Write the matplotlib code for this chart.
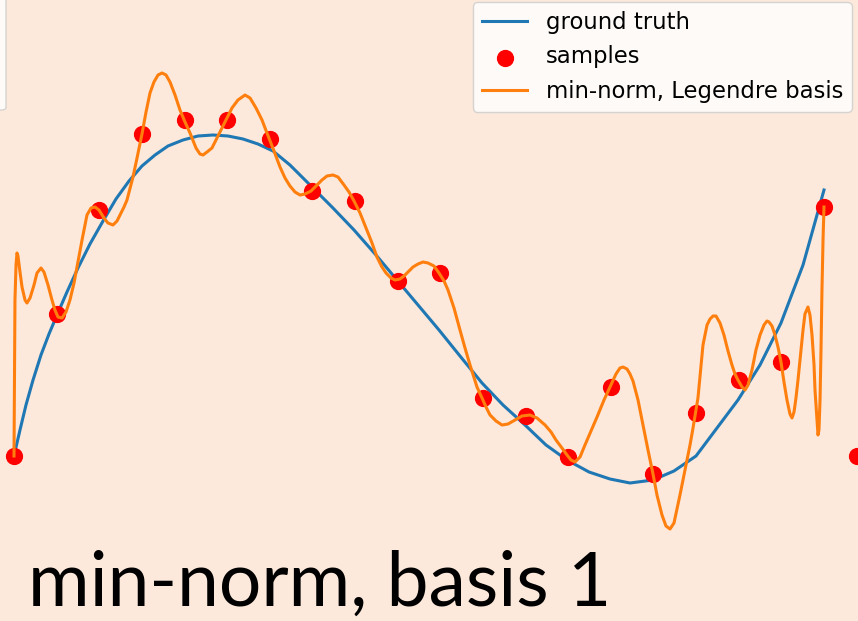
import matplotlib.pyplot as plt
from matplotlib.patches import FancyBboxPatch

BG = '#fce9db'

# ground truth curve
truth_x = [0.0, 0.0074, 0.0148, 0.0235, 0.0333, 0.0432, 0.0531, 0.0654, 0.0790, 0.0938,
           0.1099, 0.1259, 0.1420, 0.1580, 0.1741, 0.1901, 0.2086, 0.2272, 0.2457, 0.2642,
           0.2827, 0.3012, 0.3198, 0.3407, 0.3667, 0.3938, 0.4198, 0.4469, 0.4728, 0.4988,
           0.5247, 0.5506, 0.5778, 0.6037, 0.6309, 0.6568, 0.6827, 0.7099, 0.7358, 0.7605,
           0.7889, 0.8148, 0.8420, 0.8679, 0.8938, 0.9210, 0.9469, 0.9741, 1.0]
truth_y = [-1.56, -1.30, -1.05, -0.80, -0.55, -0.34, -0.15, 0.08, 0.32, 0.56,
           0.79, 1.01, 1.19, 1.34, 1.45, 1.54, 1.60, 1.64, 1.65, 1.64,
           1.61, 1.56, 1.49, 1.35, 1.14, 0.92, 0.70, 0.45, 0.20, -0.05,
           -0.30, -0.56, -0.83, -1.05, -1.25, -1.45, -1.60, -1.72, -1.79, -1.83,
           -1.80, -1.71, -1.56, -1.28, -1.00, -0.65, -0.23, 0.35, 1.10]

# noisy samples
sample_x = [0.0, 0.0526, 0.1053, 0.1579, 0.2105, 0.2632, 0.3158, 0.3684, 0.4211, 0.4737,
            0.5263, 0.5789, 0.6316, 0.6842, 0.7368, 0.7895, 0.8421, 0.8947, 0.9474, 1.0]
sample_y = [-1.56, -0.14, 0.90, 1.66, 1.80, 1.80, 1.61, 1.09, 0.99, 0.19,
            0.27, -0.98, -1.16, -1.57, -0.87, -1.74, -1.13, -0.80, -0.62, 0.93]

# min-norm interpolant in the Legendre basis
fit_x = [0.0, 0.0012, 0.0025, 0.0037, 0.0049, 0.0074, 0.0099, 0.0136, 0.0160, 0.0198,
         0.0247, 0.0284, 0.0333, 0.0370, 0.0420, 0.0469, 0.0506, 0.0543, 0.0593, 0.0642,
         0.0691, 0.0741, 0.0778, 0.0840, 0.0901, 0.0951, 0.1000, 0.1049, 0.1111, 0.1160,
         0.1222, 0.1272, 0.1309, 0.1358, 0.1395, 0.1469, 0.1519, 0.1580, 0.1630, 0.1679,
         0.1728, 0.1778, 0.1827, 0.1877, 0.1926, 0.1988, 0.2049, 0.2111, 0.2173, 0.2247,
         0.2296, 0.2333, 0.2383, 0.2444, 0.2494, 0.2543, 0.2617, 0.2691, 0.2765, 0.2852,
         0.2914, 0.2988, 0.3062, 0.3123, 0.3210, 0.3284, 0.3346, 0.3407, 0.3469, 0.3531,
         0.3593, 0.3667, 0.3728, 0.3802, 0.3864, 0.3938, 0.4000, 0.4074, 0.4136, 0.4198,
         0.4272, 0.4346, 0.4420, 0.4481, 0.4543, 0.4593, 0.4654, 0.4704, 0.4765, 0.4815,
         0.4864, 0.4926, 0.4988, 0.5049, 0.5111, 0.5185, 0.5247, 0.5309, 0.5358, 0.5432,
         0.5506, 0.5568, 0.5630, 0.5716, 0.5778, 0.5827, 0.5877, 0.5951, 0.6025, 0.6099,
         0.6185, 0.6272, 0.6370, 0.6457, 0.6556, 0.6630, 0.6691, 0.6765, 0.6827, 0.6877,
         0.6926, 0.6988, 0.7049, 0.7123, 0.7198, 0.7284, 0.7358, 0.7432, 0.7481, 0.7519,
         0.7568, 0.7605, 0.7642, 0.7704, 0.7765, 0.7827, 0.7889, 0.7938, 0.8000, 0.8049,
         0.8099, 0.8148, 0.8222, 0.8296, 0.8346, 0.8383, 0.8444, 0.8506, 0.8556, 0.8593,
         0.8630, 0.8667, 0.8716, 0.8765, 0.8815, 0.8864, 0.8901, 0.8938, 0.8988, 0.9025,
         0.9062, 0.9111, 0.9160, 0.9210, 0.9259, 0.9296, 0.9321, 0.9358, 0.9395, 0.9432,
         0.9469, 0.9506, 0.9543, 0.9580, 0.9605, 0.9630, 0.9654, 0.9679, 0.9704, 0.9741,
         0.9765, 0.9802, 0.9827, 0.9852, 0.9877, 0.9889, 0.9914, 0.9926, 0.9938, 0.9951,
         0.9963, 0.9975, 0.9988, 1.0]
fit_y = [-1.56, 0.00, 0.35, 0.47, 0.44, 0.28, 0.13, 0.00, -0.03, 0.02,
         0.15, 0.27, 0.32, 0.28, 0.15, 0.00, -0.10, -0.17, -0.18, -0.12,
         0.00, 0.17, 0.33, 0.60, 0.85, 0.92, 0.93, 0.90, 0.82, 0.77,
         0.75, 0.79, 0.85, 0.93, 1.00, 1.23, 1.42, 1.66, 1.88, 2.07,
         2.18, 2.25, 2.27, 2.25, 2.18, 2.05, 1.90, 1.78, 1.67, 1.52,
         1.46, 1.45, 1.48, 1.52, 1.60, 1.68, 1.80, 1.92, 2.00, 2.05,
         2.02, 1.92, 1.80, 1.67, 1.49, 1.33, 1.22, 1.14, 1.08, 1.05,
         1.06, 1.09, 1.14, 1.20, 1.24, 1.25, 1.23, 1.15, 1.08, 0.99,
         0.87, 0.72, 0.57, 0.43, 0.33, 0.27, 0.22, 0.20, 0.21, 0.24,
         0.28, 0.33, 0.36, 0.38, 0.37, 0.34, 0.27, 0.19, 0.10, -0.08,
         -0.30, -0.48, -0.65, -0.87, -0.98, -1.07, -1.15, -1.21, -1.25, -1.24,
         -1.20, -1.16, -1.15, -1.18, -1.25, -1.32, -1.40, -1.48, -1.55, -1.60,
         -1.62, -1.57, -1.45, -1.31, -1.17, -1.00, -0.87, -0.74, -0.68, -0.67,
         -0.69, -0.74, -0.81, -1.00, -1.25, -1.50, -1.74, -1.95, -2.15, -2.26,
         -2.29, -2.23, -1.95, -1.65, -1.45, -1.28, -0.98, -0.45, -0.25, -0.19,
         -0.16, -0.16, -0.23, -0.35, -0.51, -0.65, -0.74, -0.80, -0.87, -0.90,
         -0.85, -0.70, -0.50, -0.35, -0.25, -0.21, -0.22, -0.26, -0.35, -0.47,
         -0.62, -0.82, -1.00, -1.14, -1.18, -1.12, -0.98, -0.80, -0.60, -0.30,
         -0.14, -0.07, -0.15, -0.35, -0.65, -0.90, -1.20, -1.35, -1.30, -1.00,
         -0.50, 0.10, 0.60, 0.93]

# first sample of the neighbouring panel, clipped at the edge
next_x = [1.0407]
next_y = [-1.56]

fig = plt.figure(figsize=(8.58, 6.21), dpi=100, facecolor=BG)
ax = fig.add_axes([0, 0, 1, 1])
ax.set_facecolor(BG)

ax.plot(truth_x, truth_y, color='#1f77b4', lw=2.2, label='ground truth')
ax.scatter(sample_x, sample_y, s=130, color='red', zorder=3, label='samples')
ax.plot(fit_x, fit_y, color='#ff7f0e', lw=2.2, zorder=4, label='min-norm, Legendre basis')
ax.scatter(next_x, next_y, s=130, color='red', zorder=3)

ax.set_xlim(-0.01728, 1.04198)
ax.set_ylim(-3.21, 3.0)
ax.axis('off')

leg = ax.legend(loc='upper right', bbox_to_anchor=(852 / 858, 1 - 2 / 621),
                bbox_transform=fig.transFigure, borderaxespad=0, fontsize=16.4)

# edge of the previous panel's legend
fig.patches.append(FancyBboxPatch((-20 / 858, 1 - 110 / 621), 26 / 858, 112 / 621,
                                  boxstyle='round,pad=0,rounding_size=0.005',
                                  transform=fig.transFigure, facecolor='white',
                                  alpha=0.8, edgecolor='0.8', lw=1))

fig.text(28 / 858, 15 / 621, 'min-norm, basis 1', family='Lato', fontsize=54,
         va='baseline', ha='left', color='black')

fig.savefig('out.png', facecolor=BG)
